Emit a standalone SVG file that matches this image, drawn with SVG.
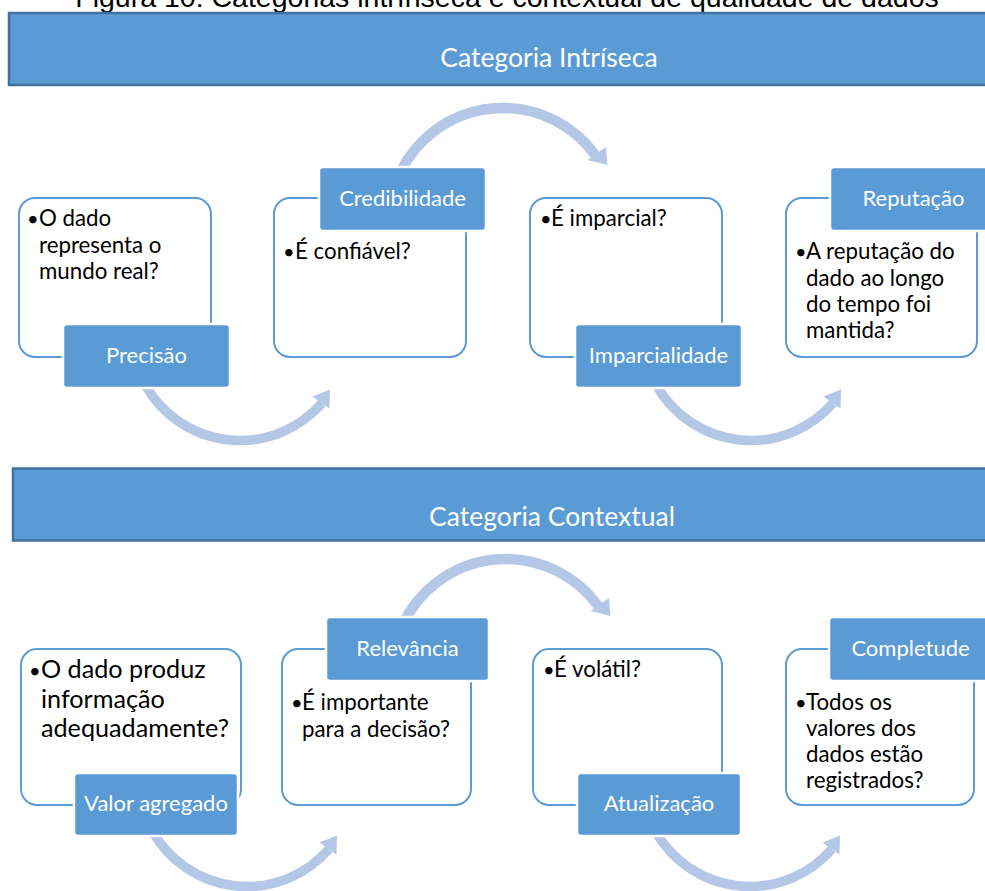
<svg xmlns="http://www.w3.org/2000/svg" width="985" height="891" viewBox="0 0 985 891">
  <style>
    .cap{font-family:"Liberation Sans",Arial,sans-serif;font-size:28.5px;fill:#000}
    .band{fill:#5B9BD5;stroke:#41719C;stroke-width:2.5}
    .bandtxt{font-family:Lato,"Open Sans",sans-serif;font-size:26.5px;fill:#fff;text-anchor:middle}
    .box{fill:#fff;stroke:#5B9BD5;stroke-width:2}
    .tag{fill:#5B9BD5;stroke:#fff;stroke-width:2.5}
    .tagtxt{font-family:Lato,"Open Sans",sans-serif;font-size:22px;fill:#fff;text-anchor:middle}
    .body{font-family:Lato,"Open Sans",sans-serif;font-size:22.3px;fill:#000}
    .big{font-size:25.2px}
    .dot{font-size:20px}
    .arc{fill:none;stroke:#B4C7E7}
    .head{fill:#B4C7E7}
  </style>
  <defs>
    <!-- circular arrow sweeping under its centre, drawn around (0,0) -->
    <g id="sweepLow">
      <path class="arc" stroke-width="9.5" d="M-93.96,54.25 A108.5,108.5 0 0 0 81.89,71.18"/>
      <polygon class="head" points="72.5,64.5 89.5,76.5 90,57.5"/>
    </g>
    <!-- circular arrow sweeping over its centre, drawn around (0,0) -->
    <g id="sweepHigh">
      <path class="arc" stroke-width="10.5" d="M-103.32,-48.18 A114,114 0 0 1 92.23,-67.01"/>
      <polygon class="head" points="84.5,-62 103,-75 104.5,-57"/>
    </g>
  </defs>

  <rect width="985" height="891" fill="#fff"/>

  <text class="cap" x="507" y="6.5" text-anchor="middle">Figura 10: Categorias intrínseca e contextual de qualidade de dados</text>

  <g id="banner-intrinseca">
    <rect class="band" x="9" y="13" width="990" height="72"/>
    <text class="bandtxt" x="549" y="67">Categoria Intríseca</text>
  </g>

  <g id="banner-contextual">
    <rect class="band" x="13" y="468.5" width="990" height="72"/>
    <text class="bandtxt" x="552" y="526">Categoria Contextual</text>
  </g>

  <g id="connectors">
    <use href="#sweepLow" transform="translate(240,332)"/>
    <use href="#sweepHigh" transform="translate(503,222)"/>
    <use href="#sweepLow" transform="translate(751,332)"/>
    <use href="#sweepLow" transform="translate(247,778)"/>
    <use href="#sweepHigh" transform="translate(506,673)"/>
    <use href="#sweepLow" transform="translate(750,778)"/>
  </g>

  <!-- first row -->
  <g id="precisao">
    <rect class="box" x="19" y="198" width="192" height="159" rx="16"/>
    <text class="body"><tspan class="dot" x="27" y="226">•</tspan><tspan x="39" y="226">O dado</tspan><tspan x="39" y="253">representa o</tspan><tspan x="39" y="279">mundo real?</tspan></text>
    <rect class="tag" x="63" y="324" width="167" height="64" rx="4"/>
    <text class="tagtxt" x="146.5" y="363">Precisão</text>
  </g>

  <g id="credibilidade">
    <rect class="box" x="274" y="198" width="192" height="159" rx="16"/>
    <text class="body"><tspan class="dot" x="283" y="259">•</tspan><tspan x="295" y="259">É confiável?</tspan></text>
    <rect class="tag" x="319" y="167" width="167" height="64" rx="4"/>
    <text class="tagtxt" x="402.5" y="206">Credibilidade</text>
  </g>

  <g id="imparcialidade">
    <rect class="box" x="530" y="198" width="192" height="159" rx="16"/>
    <text class="body"><tspan class="dot" x="540" y="226">•</tspan><tspan x="551" y="226">É imparcial?</tspan></text>
    <rect class="tag" x="575" y="324" width="167" height="64" rx="4"/>
    <text class="tagtxt" x="658.5" y="363">Imparcialidade</text>
  </g>

  <g id="reputacao">
    <rect class="box" x="786" y="198" width="191" height="159" rx="16"/>
    <text class="body"><tspan class="dot" x="795" y="259">•</tspan><tspan x="806" y="259">A reputação do</tspan><tspan x="806" y="286">dado ao longo</tspan><tspan x="806" y="312">do tempo foi</tspan><tspan x="806" y="338">mantida?</tspan></text>
    <rect class="tag" x="830" y="167" width="167" height="64" rx="4"/>
    <text class="tagtxt" x="913.5" y="206">Reputação</text>
  </g>

  <!-- second row -->
  <g id="valor-agregado">
    <rect class="box" x="21" y="649" width="220" height="156" rx="16"/>
    <text class="body big"><tspan class="dot" x="29" y="678">•</tspan><tspan x="41" y="678">O dado produz</tspan><tspan x="41" y="708">informação</tspan><tspan x="41" y="737">adequadamente?</tspan></text>
    <rect class="tag" x="74" y="773" width="164" height="63" rx="4"/>
    <text class="tagtxt" x="156" y="811">Valor agregado</text>
  </g>

  <g id="relevancia">
    <rect class="box" x="282" y="649" width="189" height="156" rx="16"/>
    <text class="body"><tspan class="dot" x="291" y="710">•</tspan><tspan x="302" y="710">É importante</tspan><tspan x="302" y="737">para a decisão?</tspan></text>
    <rect class="tag" x="326" y="617" width="163" height="64" rx="4"/>
    <text class="tagtxt" x="407.5" y="656">Relevância</text>
  </g>

  <g id="atualizacao">
    <rect class="box" x="533" y="649" width="189" height="156" rx="16"/>
    <text class="body"><tspan class="dot" x="543" y="677">•</tspan><tspan x="554" y="677">É volátil?</tspan></text>
    <rect class="tag" x="577" y="773" width="164" height="63" rx="4"/>
    <text class="tagtxt" x="659" y="811">Atualização</text>
  </g>

  <g id="completude">
    <rect class="box" x="786" y="649" width="188" height="156" rx="16"/>
    <text class="body"><tspan class="dot" x="795" y="710">•</tspan><tspan x="806" y="710">Todos os</tspan><tspan x="806" y="736">valores dos</tspan><tspan x="806" y="762">dados estão</tspan><tspan x="806" y="788">registrados?</tspan></text>
    <rect class="tag" x="829" y="617" width="163" height="64" rx="4"/>
    <text class="tagtxt" x="910.5" y="656">Completude</text>
  </g>
</svg>
